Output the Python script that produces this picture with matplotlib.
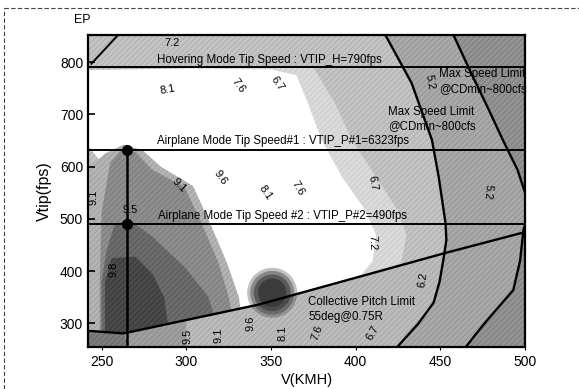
import matplotlib
matplotlib.use('Agg')
import matplotlib.pyplot as plt
from matplotlib.patches import Polygon
from matplotlib.lines import Line2D

plt.rcParams['font.family'] = ['Liberation Sans', 'DejaVu Sans']
plt.rcParams['hatch.linewidth'] = 0.5

# Tip speed design points (fps)
vtip_hover = 790
vtip_p1 = 632
vtip_p2 = 490
v_design = 265  # km/h

# Max speed limit curves (V km/h, Vtip fps)
limit1_v = [417.5, 433, 445, 449, 451, 453, 453.5, 452, 449.5, 446, 437, 424.5]
limit1_tip = [852, 760, 651, 580, 536, 492, 460, 427, 380, 340, 300, 255]
limit2_v = [457.7, 468, 477.8, 487, 495.5, 501, 503, 499, 497, 493, 477.8, 471, 465]
limit2_tip = [852, 780, 714, 650, 594, 540, 517, 479, 420, 364, 307, 280, 255]
corner_v = [244, 259.7]
corner_tip = [797, 852]

# Collective pitch limit (55deg @ 0.75R)
pitch_v = [242, 263, 342.5, 453, 500]
pitch_tip = [286, 281, 336, 435, 475]
pitch_point = (350.7, 358.7)

# EP contour bands (outer to inner)
band_halo = [(300, 790), (375, 790), (388, 720), (398, 650), (412, 580), (424, 520),
             (430, 470), (427, 420), (418, 380), (405, 290), (300, 290)]
band_white = [(242, 785), (300, 788), (350, 786), (365, 775), (372, 720), (380, 650),
              (392, 580), (405, 520), (412, 470), (410, 420), (400, 380), (385, 290),
              (260, 290), (252, 600), (242, 640)]
band_light = [(243, 280), (243, 600), (252, 625), (263, 642), (274, 632), (285, 600),
              (304, 563), (314, 492), (324, 416), (331, 351), (334, 280)]
band_mid = [(249, 280), (249, 383), (250, 512), (255, 607), (263, 636), (270, 628),
            (280, 594), (299, 561), (309, 492), (319, 416), (325, 351), (328, 300), (328, 280)]
band_dark = [(250, 280), (250, 380), (253, 440), (258, 492), (268, 495), (280, 466),
             (299, 408), (313, 351), (318, 300), (318, 280)]
band_core = [(252, 280), (252, 380), (256, 425), (270, 428), (280, 395), (287, 350),
             (289, 300), (289, 280)]

# contour value labels: text, V, Vtip, rotation
ep_labels = [
    ('7.2', 291.6, 837, 0), ('8.1', 288.7, 747, 10), ('7.6', 330.6, 756, -55),
    ('6.7', 353.7, 760, -55), ('5.2', 444, 762, -80), ('9.1', 296, 565, -45),
    ('9.6', 320, 580, -55), ('8.1', 346.6, 550, -55), ('7.6', 366, 559, -60),
    ('6.7', 410, 569, -80), ('5.2', 478, 552, -95), ('9.1', 245, 542, 90),
    ('9.5', 266.8, 517, 0), ('9.8', 256.8, 403, 90), ('7.2', 409.8, 454, -90),
    ('6.2', 439.4, 383, 80), ('9.5', 300.5, 275, 90), ('9.1', 318.8, 278, 90),
    ('9.6', 337.7, 301, 90), ('8.1', 356.7, 282, 90), ('7.6', 377, 282, 70),
    ('6.7', 409.8, 282, 60),
]

fig = plt.figure(figsize=(5.79, 3.89), dpi=100)
ax = fig.add_axes([0.152, 0.108, 0.755, 0.802])
ax.set_facecolor('#c4c4c4')

def fill(pts, color, z, hatch_color=None):
    # gray fill with a fine diagonal screen on top, like a printed halftone
    ax.add_patch(Polygon(pts, closed=True, facecolor=color, edgecolor='none', zorder=z))
    if hatch_color:
        ax.add_patch(Polygon(pts, closed=True, facecolor='none', edgecolor=hatch_color,
                             lw=0, hatch='//////', zorder=z))

# background screen
fill([(242, 255), (242, 852), (500, 852), (500, 255)], '#c4c4c4', 0.05, '#a8a8a8')
fill(band_halo, '#dadada', 0.1, '#c8c8c8')
fill(band_white, '#ffffff', 0.2)
fill(band_light, '#b4b4b4', 0.3, '#9a9a9a')
fill(band_mid, '#8e8e8e', 0.4, '#747474')
fill(band_dark, '#6c6c6c', 0.5, '#545454')
fill(band_core, '#4a4a4a', 0.6, '#333333')

# region below the collective pitch limit
below = list(zip(pitch_v, pitch_tip)) + [(500, 255), (242, 255)]
fill(below, '#bcbcbc', 0.7, '#a0a0a0')
fill([(242, 255), (242, 286), (263, 281), (300, 307), (300, 255)], '#a0a0a0', 0.75, '#868686')
fill([(242, 255), (242, 286), (263, 281), (266, 255)], '#7c7c7c', 0.8, '#606060')

# beyond the max speed limit curves
fill(list(zip(limit1_v, limit1_tip)) + [(510, 255), (510, 852)], '#a9a9a9', 0.9, '#8c8c8c')
fill(list(zip(limit2_v, limit2_tip)) + [(510, 255), (510, 852)], '#939393', 0.95, '#767676')

# soft dot at the collective pitch limit point
for s, a in [(1300, 0.3), (1000, 0.4), (700, 0.55), (420, 0.75)]:
    ax.scatter(*pitch_point, s=s, color='#333333', alpha=a, edgecolors='none', zorder=1.5)

# limit lines
ax.plot(limit1_v, limit1_tip, color='black', lw=1.7, zorder=3)
ax.plot(limit2_v, limit2_tip, color='black', lw=1.7, zorder=3)
ax.plot(corner_v, corner_tip, color='black', lw=1.4, zorder=3)
ax.plot(pitch_v, pitch_tip, color='black', lw=1.7, zorder=3)

for tip in [vtip_hover, vtip_p1, vtip_p2]:
    ax.axhline(tip, color='black', lw=1.4, zorder=3)
ax.plot([v_design, v_design], [255, vtip_p1], color='black', lw=1.8, zorder=3)
ax.plot([v_design, v_design], [vtip_p1, vtip_p2], 'o', color='black', ms=7, zorder=4)

# annotations
ax.text(282.8, vtip_hover + 3, 'Hovering Mode Tip Speed : VTIP_H=790fps',
        fontsize=8.3, va='bottom', zorder=5)
ax.text(282.8, vtip_p1 + 5, 'Airplane Mode Tip Speed#1 : VTIP_P#1=6323fps',
        fontsize=8.3, va='bottom', zorder=5)
ax.text(283.5, vtip_p2 + 5, 'Airplane Mode Tip Speed #2 : VTIP_P#2=490fps',
        fontsize=8.3, va='bottom', zorder=5)
ax.text(449, 788, 'Max Speed Limit\n@CDmin~800cfs', fontsize=8.3, va='top',
        ha='left', linespacing=1.25, zorder=5)
ax.text(419, 717, 'Max Speed Limit\n@CDmin~800cfs', fontsize=8.3, va='top',
        ha='left', linespacing=1.25, zorder=5)
ax.text(372, 352, 'Collective Pitch Limit\n55deg@0.75R', fontsize=8.3, va='top',
        ha='left', linespacing=1.25, zorder=5)

for txt, v, tip, rot in ep_labels:
    ax.text(v, tip, txt, fontsize=8, rotation=rot, ha='center', va='center',
            rotation_mode='anchor', zorder=5)

ax.set_xlim(242, 500)
ax.set_ylim(255, 852)
ax.set_xticks([250, 300, 350, 400, 450, 500])
ax.set_yticks([300, 400, 500, 600, 700, 800])
ax.tick_params(axis='y', direction='in', length=5, width=1.2, labelsize=10)
ax.tick_params(axis='x', direction='out', length=2, width=0.8, labelsize=10)
for sp in ax.spines.values():
    sp.set_linewidth(1.6)
    sp.set_zorder(6)

ax.set_xlabel('V(KMH)', fontsize=10.5, labelpad=3)
ax.set_ylabel('Vtip(fps)', fontsize=11.5, labelpad=6)
fig.text(0.143, 0.948, 'EP', fontsize=9, ha='center', va='center')

# dashed frame along the top and left edges
fig.add_artist(Line2D([0.007, 1.0], [0.979, 0.979], transform=fig.transFigure,
                      color='#444444', lw=0.8, ls=(0, (4, 2))))
fig.add_artist(Line2D([0.007, 0.007], [0.0, 0.979], transform=fig.transFigure,
                      color='#444444', lw=0.8, ls=(0, (4, 2))))

fig.savefig('out.png', dpi=100)
